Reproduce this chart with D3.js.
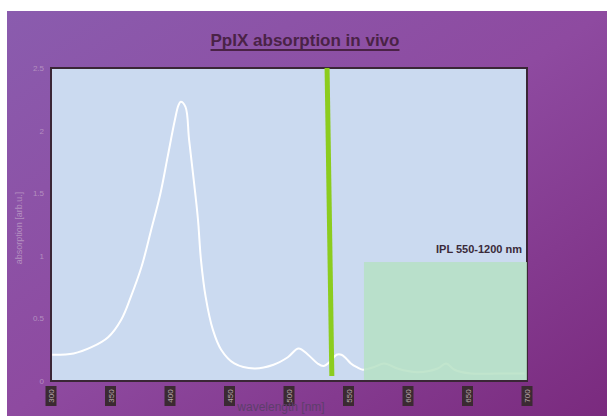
<!DOCTYPE html>
<html><head><meta charset="utf-8">
<script src="https://cdn.jsdelivr.net/npm/d3@7"></script>
<style>body{margin:0;background:#fff}svg{display:block}</style>
</head><body>
<script>
// ---- data ----
const wavelengths = [301,319,334,348,359,367,376,384,392,398,404,407,409,413,416,420,423.5,426,430,436,443,454,471,487,499,508,516,524,529,535,540,544,548,552,557,562,571,580,591,608,625,632,639,653,676,698];
const absorption  = [0.21,0.22,0.27,0.35,0.49,0.67,0.91,1.2,1.5,1.79,2.08,2.2,2.23,2.19,1.93,1.6,1.29,0.97,0.67,0.41,0.25,0.14,0.10,0.13,0.19,0.26,0.21,0.14,0.12,0.16,0.21,0.21,0.18,0.14,0.11,0.09,0.11,0.14,0.10,0.07,0.10,0.14,0.09,0.06,0.06,0.06];
const xTicks = [300,350,400,450,500,550,600,650,700];
const yTicks = [0,0.5,1,1.5,2,2.5];
const markerLine = [[532,2.5],[536,0.04]];
const iplBand = {from:563, to:700, height:0.95, label:"IPL 550-1200 nm"};
const title = "PpIX absorption in vivo";
const xLabel = "wavelength [nm]";
const yLabel = "absorption [arb.u.]";

const W=607,H=416;
const svg=d3.select("body").append("svg").attr("width",W).attr("height",H);
const defs=svg.append("defs");
const g1=defs.append("linearGradient").attr("id","bg").attr("x1","0").attr("y1","0").attr("x2","1").attr("y2","1");
g1.append("stop").attr("offset","0").attr("stop-color","#8a5cae");
g1.append("stop").attr("offset","0.5").attr("stop-color","#8e4aa0");
g1.append("stop").attr("offset","1").attr("stop-color","#7a2a7e");
svg.append("rect").attr("x",7).attr("y",11).attr("width",W-7).attr("height",H-11).attr("fill","url(#bg)");

const x=d3.scaleLinear().domain([300,700]).range([51,527]);
const y=d3.scaleLinear().domain([0,2.5]).range([381,68]);

// plot area
svg.append("rect").attr("x",51).attr("y",68).attr("width",476).attr("height",313)
  .attr("fill","#cbdaf0").attr("stroke","#3a2636").attr("stroke-width",2);

// curve
const line=d3.line().x((d,i)=>x(wavelengths[i])).y(d=>y(d)).curve(d3.curveCatmullRom.alpha(0.5));
svg.append("path").datum(absorption).attr("d",line).attr("fill","none")
  .attr("stroke","#ffffff").attr("stroke-width",2);

// marker line
svg.append("line").attr("x1",x(markerLine[0][0])).attr("y1",y(markerLine[0][1]))
  .attr("x2",x(markerLine[1][0])).attr("y2",y(markerLine[1][1]))
  .attr("stroke","#8ccc1e").attr("stroke-width",5);

// IPL band
svg.append("rect").attr("x",x(iplBand.from)).attr("y",y(iplBand.height))
  .attr("width",x(iplBand.to)-x(iplBand.from)).attr("height",y(0)-y(iplBand.height)-1)
  .attr("fill","#b6e0c4").attr("fill-opacity",0.85);
svg.append("text").attr("x",x(iplBand.to)-5).attr("y",y(iplBand.height)-9)
  .attr("text-anchor","end").attr("font-family","Liberation Sans, Arial, sans-serif")
  .attr("font-weight","bold").attr("font-size",11).attr("fill","#3a2a3a").text(iplBand.label);

// y ticks
svg.append("g").selectAll("text").data(yTicks).join("text")
  .attr("x",44).attr("y",d=>y(d)+3).attr("text-anchor","end")
  .attr("font-family","Liberation Sans, Arial, sans-serif").attr("font-size",8)
  .attr("fill","#b48fc0").text(d=>d);

// x ticks with dark boxes
const xt=svg.append("g").selectAll("g").data(xTicks).join("g")
  .attr("transform",d=>`translate(${x(d)},396)`);
xt.append("rect").attr("x",-5.5).attr("y",-10).attr("width",11).attr("height",20).attr("fill","#3b2a32");
xt.append("text").attr("transform","rotate(-90)").attr("text-anchor","middle").attr("y",3)
  .attr("font-family","Liberation Sans, Arial, sans-serif").attr("font-size",8).attr("fill","#b8a8a8").text(d=>d);

// axis labels
svg.append("text").attr("x",281).attr("y",411).attr("text-anchor","middle")
  .attr("font-family","Liberation Sans, Arial, sans-serif").attr("font-size",12)
  .attr("fill","#5e3e6c").text(xLabel);
svg.append("text").attr("transform","translate(22,228) rotate(-90)").attr("text-anchor","middle")
  .attr("font-family","Liberation Sans, Arial, sans-serif").attr("font-size",9)
  .attr("fill","#b48fc0").text(yLabel);

// title
const t=svg.append("text").attr("x",305).attr("y",46).attr("text-anchor","middle")
  .attr("font-family","Liberation Sans, Arial, sans-serif").attr("font-weight","bold").attr("font-size",17)
  .attr("fill","#4a2246").text(title);
const bb=t.node().getBBox();
svg.append("line").attr("x1",bb.x).attr("x2",bb.x+bb.width).attr("y1",50).attr("y2",50)
  .attr("stroke","#4a2246").attr("stroke-width",2);
</script>
</body></html>
